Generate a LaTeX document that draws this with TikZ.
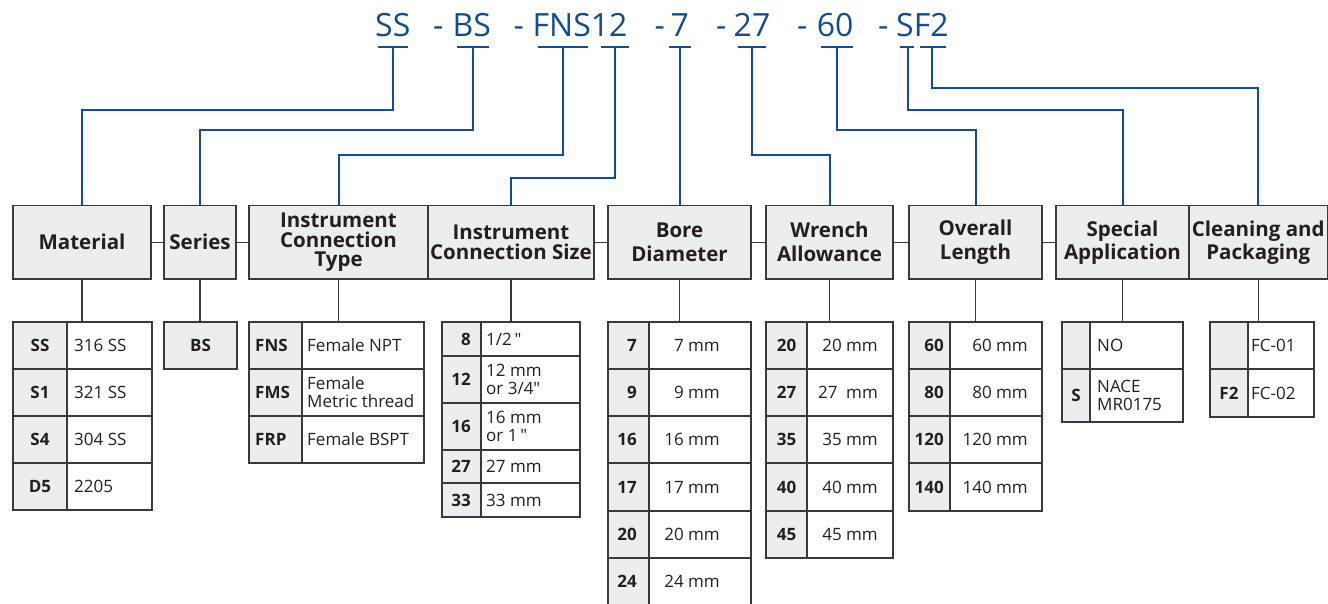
\documentclass[tikz,border=0pt]{standalone}
\usepackage{fontspec}
\setmainfont{Open Sans}[Ligatures=TeXOff]
\definecolor{bl}{HTML}{124E8D}
\definecolor{bord}{HTML}{3A3A3A}
\definecolor{hfill}{HTML}{ECEDEE}
\definecolor{txt}{HTML}{231F20}
\newcommand\trow[5]{%
  \draw[codec] (#1,#4) rectangle (#2,#5);
  \draw[valc] (#2,#4) rectangle (#3,#5);}
\begin{document}
\begin{tikzpicture}[x=1pt,y=-1pt,
 hdr/.style={draw=bord, fill=hfill, line width=1.3pt, inner sep=0pt, minimum height=73.5pt, align=center, text=txt, font=\fontsize{20.5}{23}\selectfont\bfseries},
 link/.style={draw=bord, line width=1.3pt},
 blu/.style={draw=bl, line width=2pt},
 cd/.style={text=bl, font=\fontsize{32}{36}\selectfont, inner sep=0pt, anchor=base west},
 codec/.style={fill=hfill, draw=bord, line width=1.3pt},
 valc/.style={fill=white, draw=bord, line width=1.3pt},
 ct/.style={inner sep=0pt, text=txt, font=\fontsize{17}{18}\selectfont\bfseries},
 vt/.style={inner sep=0pt, text=txt, font=\fontsize{17}{18}\selectfont, align=left},
]
\useasboundingbox (0,0) rectangle (1328,604);
\fill[white] (0,0) rectangle (1328,604);

% ---- code string ----
\node[cd] (cSS) at (375,37) {SS};
\node[cd] (d1) at (433,37) {-};
\node[cd] (cBS) at (452.5,37) {BS};
\node[cd] (d2) at (513.5,37) {-};
\node[cd] (cFNS) at (532.5,37) {FNS12};
\node[cd] (d3) at (654.5,37) {-};
\node[cd] (c7) at (670.5,37) {7};
\node[cd] (d4) at (715.8,37) {-};
\node[cd] (c27) at (733.5,37) {27};
\node[cd] (d5) at (797,37) {-};
\node[cd] (c60) at (816.7,37) {60};
\node[cd] (d6) at (878,37) {-};
\node[cd] (cSF) at (896,37) {SF2};

\coordinate (bSS) at (393,47.5);
\coordinate (bBS) at (472.7,47.5);
\coordinate (bFNS) at (563,47.5);
\coordinate (b12) at (614.5,47.5);
\coordinate (b7) at (679.8,47.5);
\coordinate (b27) at (751.8,47.5);
\coordinate (b60) at (836.8,47.5);
\coordinate (bS) at (907.5,47.5);
\coordinate (bF2) at (932,47.5);

\draw[blu] ([xshift=-15.2pt]bSS) -- ([xshift=15.2pt]bSS);
\draw[blu] ([xshift=-15.8pt]bBS) -- ([xshift=15.8pt]bBS);
\draw[blu] ([xshift=-25.3pt]bFNS) -- ([xshift=25.3pt]bFNS);
\draw[blu] ([xshift=-14pt]b12) -- ([xshift=14pt]b12);
\draw[blu] ([xshift=-10.7pt]b7) -- ([xshift=10.7pt]b7);
\draw[blu] ([xshift=-14.2pt]b27) -- ([xshift=14.2pt]b27);
\draw[blu] ([xshift=-16.2pt]b60) -- ([xshift=16.2pt]b60);
\draw[blu] ([xshift=-8pt]bS) -- ([xshift=6.5pt]bS);
\draw[blu] ([xshift=-12.5pt]bF2) -- ([xshift=14pt]bF2);

% ---- headers ----
\node[hdr, minimum width=138pt] (hMat) at (82,242.25) {Material};
\node[hdr, minimum width=72pt] (hSer) at (200,242.25) {Series};
\node[hdr, minimum width=179pt, font=\fontsize{20.5}{19.5}\selectfont\bfseries] (hICT) at (338.5,242.25) {Instrument\\Connection\\Type};
\node[hdr, minimum width=166pt, font=\fontsize{20.5}{20}\selectfont\bfseries] (hICS) at (511,242.25) {Instrument\\Connection Size};
\node[hdr, minimum width=143pt, font=\fontsize{20.5}{24}\selectfont\bfseries] (hBore) at (679.5,242.25) {Bore\\Diameter};
\node[hdr, minimum width=127pt, font=\fontsize{20.5}{24}\selectfont\bfseries] (hWr) at (829.5,242.25) {Wrench\\Allowance};
\node[hdr, minimum width=133pt, font=\fontsize{20.5}{24}\selectfont\bfseries] (hOL) at (975.5,242.25) {Overall\\Length};
\node[hdr, minimum width=133pt, font=\fontsize{20.5}{23}\selectfont\bfseries] (hSA) at (1122.5,242.25) {Special\\Application};
\node[hdr, minimum width=138.5pt, font=\fontsize{20.5}{23}\selectfont\bfseries] (hCP) at (1258.25,242.25) {Cleaning and\\Packaging};

% ---- blue connectors ----
\draw[blu] (bSS) -- ++(0,62.5) -| (hMat.north);
\draw[blu] (bBS) -- ++(0,82.5) -| (hSer.north);
\draw[blu] (bFNS) -- ++(0,107.5) -| (hICT.north);
\draw[blu] (b12) -- ++(0,130.5) -| (hICS.north);
\draw[blu] (b7) -- (b7 |- hBore.north);
\draw[blu] (b27) -- ++(0,107.5) -| (hWr.north);
\draw[blu] (b60) -- ++(0,82.5) -| (hOL.north);
\draw[blu] (bS) -- ++(0,62.5) -| (hSA.north);
\draw[blu] (bF2) -- ++(0,40.5) -| (hCP.north);

% ---- grey links between headers ----
\draw[link] (hMat.east) -- (hSer.west);
\draw[link] (hSer.east) -- (hICT.west);
\draw[link] (hICS.east) -- (hBore.west);
\draw[link] (hBore.east) -- (hWr.west);
\draw[link] (hWr.east) -- (hOL.west);
\draw[link] (hOL.east) -- (hSA.west);

\coordinate (ttop) at (0,322);
\foreach \h in {hMat,hSer,hICT,hICS,hBore,hWr,hOL,hSA,hCP}
  \draw[link] (\h.south) -- (\h.south |- ttop);

% ---- Material table ----
\trow{13}{67}{152}{322}{369}
\trow{13}{67}{152}{369}{416}
\trow{13}{67}{152}{416}{463}
\trow{13}{67}{152}{463}{510}
\node[ct] (m1c) at (40,345.5) {SS};
\node[ct] (m2c) at (40,392.5) {S1};
\node[ct] (m3c) at (40,439.5) {S4};
\node[ct] (m4c) at (40,486.5) {D5};
\node[vt,anchor=west] (m1v) at (74,345.5) {316 SS};
\node[vt,anchor=west] (m2v) at (74,392.5) {321 SS};
\node[vt,anchor=west] (m3v) at (74,439.5) {304 SS};
\node[vt,anchor=west] (m4v) at (74,486.5) {2205};

% ---- Series ----
\draw[codec] (164,322) rectangle (237,369);
\node[ct] (s1c) at (200.5,345.5) {BS};

% ---- Instrument connection type ----
\trow{249}{302}{424}{322}{369}
\trow{249}{302}{424}{369}{416}
\trow{249}{302}{424}{416}{463}
\node[ct,anchor=west] (t1c) at (255,345.5) {FNS};
\node[ct,anchor=west] (t2c) at (255,392.5) {FMS};
\node[ct,anchor=west] (t3c) at (255,439.5) {FRP};
\node[vt,anchor=west] (t1v) at (307,345.5) {Female NPT};
\node[vt,anchor=west] (t2v) at (307,392.5) {Female\\Metric thread};
\node[vt,anchor=west] (t3v) at (307,439.5) {Female BSPT};

% ---- Instrument connection size ----
\trow{442}{481}{580}{322}{356}
\trow{442}{481}{580}{356}{403}
\trow{442}{481}{580}{403}{450}
\trow{442}{481}{580}{450}{483}
\trow{442}{481}{580}{483}{517}
\node[ct,anchor=east] (z1c) at (471,339) {8};
\node[ct,anchor=east] (z2c) at (471,379.5) {12};
\node[ct,anchor=east] (z3c) at (471,426.5) {16};
\node[ct,anchor=east] (z4c) at (471,466.5) {27};
\node[ct,anchor=east] (z5c) at (471,500) {33};
\node[vt,anchor=west] (z1v) at (486,339) {1/2\,"};
\node[vt,anchor=west] (z2v) at (486,379.5) {12 mm\\or 3/4"};
\node[vt,anchor=west] (z3v) at (486,426.5) {16 mm\\or 1\,"};
\node[vt,anchor=west] (z4v) at (486,466.5) {27 mm};
\node[vt,anchor=west] (z5v) at (486,500) {33 mm};

% ---- Bore diameter ----
\trow{608}{649}{751}{322}{369}
\trow{608}{649}{751}{369}{416}
\trow{608}{649}{751}{416}{463}
\trow{608}{649}{751}{463}{511}
\trow{608}{649}{751}{511}{558}
\trow{608}{649}{751}{558}{606}
\node[ct,anchor=east] (o1c) at (637,345.5) {7};
\node[ct,anchor=east] (o2c) at (637,392.5) {9};
\node[ct,anchor=east] (o3c) at (637,439.5) {16};
\node[ct,anchor=east] (o4c) at (637,487) {17};
\node[ct,anchor=east] (o5c) at (637,534.5) {20};
\node[ct,anchor=east] (o6c) at (637,581.5) {24};
\node[vt,anchor=east] (o1v) at (720,345.5) {7 mm};
\node[vt,anchor=east] (o2v) at (720,392.5) {9 mm};
\node[vt,anchor=east] (o3v) at (720,439.5) {16 mm};
\node[vt,anchor=east] (o4v) at (720,487) {17 mm};
\node[vt,anchor=east] (o5v) at (720,534.5) {20 mm};
\node[vt,anchor=east] (o6v) at (720,581.5) {24 mm};

% ---- Wrench allowance ----
\trow{766}{807}{893}{322}{369}
\trow{766}{807}{893}{369}{416}
\trow{766}{807}{893}{416}{463}
\trow{766}{807}{893}{463}{511}
\trow{766}{807}{893}{511}{558}
\node[ct] (w1c) at (786.5,345.5) {20};
\node[ct] (w2c) at (786.5,392.5) {27};
\node[ct] (w3c) at (786.5,439.5) {35};
\node[ct] (w4c) at (786.5,487) {40};
\node[ct] (w5c) at (786.5,534.5) {45};
\node[vt,anchor=east] (w1v) at (878,345.5) {20 mm};
\node[vt,anchor=east] (w2v) at (878,392.5) {27\hspace{0.5em}mm};
\node[vt,anchor=east] (w3v) at (878,439.5) {35 mm};
\node[vt,anchor=east] (w4v) at (878,487) {40 mm};
\node[vt,anchor=east] (w5v) at (878,534.5) {45 mm};

% ---- Overall length ----
\trow{909}{950}{1042}{322}{369}
\trow{909}{950}{1042}{369}{416}
\trow{909}{950}{1042}{416}{463}
\trow{909}{950}{1042}{463}{511}
\node[ct,anchor=east] (l1c) at (944,345.5) {60};
\node[ct,anchor=east] (l2c) at (944,392.5) {80};
\node[ct,anchor=east] (l3c) at (944,439.5) {120};
\node[ct,anchor=east] (l4c) at (944,487) {140};
\node[vt,anchor=east] (l1v) at (1028,345.5) {60 mm};
\node[vt,anchor=east] (l2v) at (1028,392.5) {80 mm};
\node[vt,anchor=east] (l3v) at (1028,439.5) {120 mm};
\node[vt,anchor=east] (l4v) at (1028,487) {140 mm};

% ---- Special application ----
\trow{1062}{1090}{1183}{322}{369}
\trow{1062}{1090}{1183}{369}{422}
\node[ct] (a2c) at (1076,395.5) {S};
\node[vt,anchor=west] (a1v) at (1097,345.5) {NO};
\node[vt,anchor=west] (a2v) at (1097,395.5) {NACE\\MR0175};

% ---- Cleaning and packaging ----
\trow{1210}{1248}{1314}{322}{369}
\trow{1210}{1248}{1314}{369}{417}
\node[ct] (p2c) at (1229,393) {F2};
\node[vt,anchor=west] (p1v) at (1251,345.5) {FC-01};
\node[vt,anchor=west] (p2v) at (1251,393) {FC-02};
\end{tikzpicture}
\end{document}
